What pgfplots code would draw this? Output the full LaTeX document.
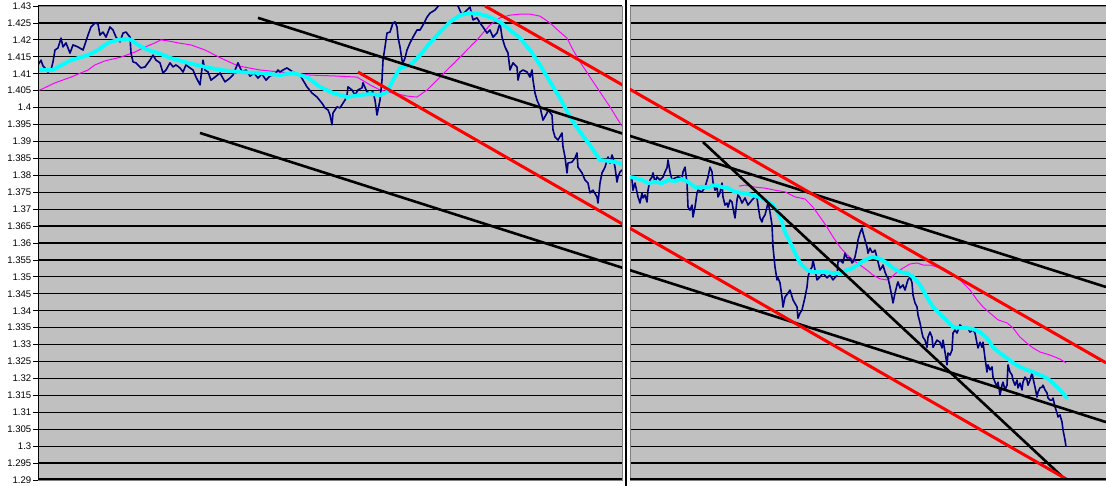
\documentclass[border=0pt]{standalone}
\usepackage{pgfplots}
\pgfplotsset{compat=1.18}
\usepackage{fontspec}
\setmainfont{Liberation Sans}
\definecolor{bgGrey}{HTML}{C0C0C0}
\definecolor{navyS}{HTML}{000080}
\definecolor{cyanS}{HTML}{00FFFF}
\definecolor{magS}{HTML}{FF00FF}
\definecolor{frameG}{HTML}{808080}
\pgfplotsset{
  panel/.style={
    scale only axis, height=474pt,
    ymin=1.29, ymax=1.43,
    ytick={1.29,1.295,1.3,1.305,1.31,1.315,1.32,1.325,1.33,1.335,1.34,1.345,1.35,1.355,1.36,1.365,1.37,1.375,1.38,1.385,1.39,1.395,1.4,1.405,1.41,1.415,1.42,1.425,1.43},
    xtick=\empty,
    ymajorgrids, grid style={black, line width=1.2pt},
    axis background/.style={fill=bgGrey},
    axis line style={draw=frameG, line width=0.8pt},
    clip=true,
  },
  price/.style={navyS, line width=1.6pt, line join=round},
  ma/.style={cyanS, line width=3.8pt, line join=round, line cap=round},
  ma2/.style={magS, line width=1pt, line join=round},
  tblack/.style={black, line width=2.6pt},
  tred/.style={red, line width=3pt},
}
\begin{document}
\begin{tikzpicture}[x=1pt,y=1pt]
\fill[white] (0,0) rectangle (1106,486);
\useasboundingbox (0,0) rectangle (1106,486);
% ---------------- left panel ----------------
\begin{axis}[panel, at={(38pt,6pt)}, anchor=south west, width=584pt,
  xmin=38, xmax=622,
  ytick pos=left, tick align=outside, major tick length=5pt,
  tick style={black, line width=0.8pt},
  /pgf/number format/assume math mode=true,
  yticklabel={\pgfmathprintnumber[fixed,precision=3]{\tick}},
  yticklabel style={font=\fontsize{9.6}{11}\selectfont, inner sep=1.5pt},
]
\addplot[ma2] coordinates {(38,1.4049) (55,1.4073) (71,1.4090) (88,1.4111) (95,1.4126) (105,1.4138) (121,1.4149) (135,1.4164) (145,1.4179) (155,1.4191) (161,1.4200) (168,1.4197) (178,1.4191) (191,1.4185) (205,1.4170) (221,1.4146) (238,1.4123) (260,1.4111) (280,1.4105) (310,1.4096) (337,1.4093) (357,1.4090) (370,1.4067) (380,1.4052) (393,1.4043) (407,1.4034) (417,1.4031) (427,1.4052) (437,1.4081) (447,1.4111) (457,1.4140) (467,1.4170) (477,1.4200) (490,1.4244) (500,1.4265) (510,1.4273) (520,1.4276) (530,1.4276) (540,1.4270) (550,1.4250) (560,1.4223) (567,1.4205) (573,1.4170) (580,1.4135) (590,1.4090) (600,1.4046) (610,1.4002) (620,1.3954) (622,1.3946)};
\addplot[price] coordinates {(38,1.4126) (41,1.4140) (43,1.4123) (45,1.4117) (48,1.4105) (51,1.4111) (53,1.4135) (55,1.4170) (58,1.4176) (61,1.4205) (63,1.4179) (66,1.4191) (70,1.4161) (73,1.4185) (78,1.4179) (83,1.4170) (88,1.4214) (91,1.4238) (95,1.4250) (98,1.4247) (100,1.4214) (103,1.4223) (106,1.4208) (110,1.4238) (113,1.4229) (116,1.4208) (120,1.4194) (123,1.4220) (126,1.4223) (130,1.4208) (131,1.4161) (133,1.4135) (136,1.4132) (141,1.4117) (145,1.4120) (150,1.4140) (153,1.4155) (156,1.4140) (160,1.4132) (163,1.4102) (166,1.4111) (170,1.4132) (173,1.4120) (176,1.4126) (180,1.4117) (183,1.4105) (186,1.4126) (190,1.4117) (193,1.4111) (196,1.4090) (200,1.4067) (203,1.4140) (205,1.4111) (208,1.4105) (211,1.4081) (215,1.4090) (220,1.4102) (225,1.4076) (230,1.4087) (233,1.4096) (238,1.4132) (242,1.4105) (246,1.4111) (250,1.4093) (254,1.4102) (258,1.4087) (262,1.4099) (266,1.4081) (270,1.4093) (275,1.4099) (278,1.4111) (280,1.4105) (283,1.4111) (287,1.4117) (290,1.4111) (293,1.4105) (300,1.4096) (303,1.4081) (307,1.4061) (312,1.4043) (317,1.4031) (322,1.4013) (325,1.3999) (328,1.3993) (330,1.3978) (332,1.3949) (333,1.3984) (337,1.4002) (340,1.3999) (343,1.4013) (345,1.4022) (347,1.4037) (348,1.4061) (352,1.4052) (355,1.4037) (358,1.4052) (362,1.4058) (363,1.4073) (367,1.4046) (370,1.4043) (373,1.4046) (375,1.4022) (377,1.3978) (378,1.3993) (380,1.4022) (382,1.4081) (383,1.4140) (385,1.4179) (387,1.4220) (390,1.4223) (393,1.4250) (395,1.4253) (397,1.4238) (398,1.4208) (400,1.4179) (402,1.4140) (403,1.4132) (405,1.4146) (407,1.4170) (410,1.4191) (413,1.4208) (417,1.4229) (420,1.4229) (423,1.4244) (427,1.4267) (430,1.4279) (435,1.4288) (440,1.4306) (445,1.4318) (450,1.4324) (455,1.4312) (458,1.4300) (462,1.4273) (467,1.4288) (470,1.4297) (473,1.4259) (477,1.4265) (480,1.4250) (483,1.4238) (487,1.4220) (490,1.4229) (493,1.4208) (497,1.4220) (500,1.4250) (502,1.4208) (505,1.4179) (508,1.4161) (510,1.4111) (513,1.4132) (517,1.4120) (518,1.4081) (520,1.4105) (523,1.4111) (527,1.4105) (530,1.4090) (532,1.4111) (533,1.4081) (535,1.4043) (537,1.4022) (540,1.4002) (543,1.3963) (547,1.3984) (548,1.3993) (552,1.3978) (553,1.3934) (555,1.3913) (558,1.3904) (562,1.3925) (563,1.3884) (565,1.3854) (567,1.3807) (568,1.3836) (572,1.3839) (575,1.3851) (577,1.3866) (578,1.3824) (582,1.3807) (585,1.3786) (588,1.3777) (590,1.3748) (593,1.3756) (597,1.3736) (598,1.3718) (600,1.3777) (602,1.3807) (605,1.3824) (608,1.3854) (610,1.3836) (612,1.3860) (613,1.3851) (615,1.3824) (617,1.3780) (618,1.3795) (620,1.3810) (622,1.3816)};
\addplot[ma] coordinates {(38,1.4111) (53,1.4111) (58,1.4120) (71,1.4140) (88,1.4155) (98,1.4170) (108,1.4191) (118,1.4200) (128,1.4203) (133,1.4197) (138,1.4185) (148,1.4170) (158,1.4161) (171,1.4146) (188,1.4132) (205,1.4120) (221,1.4111) (238,1.4105) (260,1.4102) (280,1.4096) (293,1.4102) (307,1.4090) (320,1.4061) (333,1.4043) (347,1.4031) (360,1.4037) (370,1.4040) (380,1.4037) (387,1.4046) (393,1.4081) (400,1.4117) (407,1.4123) (413,1.4132) (420,1.4155) (430,1.4191) (440,1.4223) (450,1.4253) (460,1.4273) (470,1.4279) (480,1.4276) (490,1.4267) (500,1.4253) (510,1.4229) (520,1.4205) (530,1.4170) (540,1.4126) (550,1.4076) (560,1.4028) (570,1.3972) (580,1.3928) (590,1.3889) (600,1.3845) (610,1.3842) (620,1.3836) (622,1.3830)};
\addplot[tblack] coordinates {(258,1.4265) (1106,1.3470)};
\addplot[tblack] coordinates {(200,1.3925) (1106,1.3071)};
\addplot[tred] coordinates {(485,1.4300) (1106,1.3246)};
\addplot[tred] coordinates {(358,1.4105) (1068,1.2900)};
\draw[black, line width=1pt] (rel axis cs:0,0) -- (rel axis cs:0,1);
\draw[black, line width=3pt] (rel axis cs:0,0) -- (rel axis cs:1,0);
\end{axis}
% ---------------- right panel ----------------
\begin{axis}[panel, at={(630pt,6pt)}, anchor=south west, width=476pt,
  xmin=630, xmax=1106,
  yticklabels={}, major tick length=0pt,
]
\addplot[ma2] coordinates {(739,1.3768) (745,1.3771) (755,1.3765) (765,1.3762) (775,1.3756) (785,1.3751) (795,1.3736) (805,1.3730) (813,1.3706) (820,1.3677) (827,1.3647) (833,1.3618) (840,1.3588) (847,1.3565) (853,1.3550) (860,1.3535) (867,1.3520) (873,1.3505) (880,1.3494) (887,1.3491) (892,1.3500) (897,1.3514) (903,1.3526) (910,1.3538) (917,1.3541) (923,1.3535) (930,1.3535) (937,1.3529) (943,1.3526) (950,1.3514) (957,1.3500) (963,1.3482) (970,1.3461) (977,1.3432) (983,1.3411) (990,1.3393) (998,1.3373) (1007,1.3364) (1013,1.3349) (1020,1.3322) (1027,1.3304) (1033,1.3290) (1040,1.3278) (1050,1.3269) (1060,1.3257) (1066,1.3246)};
\addplot[price] coordinates {(630,1.3801) (632,1.3786) (633,1.3756) (635,1.3777) (638,1.3736) (640,1.3718) (642,1.3748) (643,1.3733) (645,1.3742) (647,1.3721) (648,1.3756) (650,1.3786) (652,1.3795) (653,1.3807) (655,1.3780) (657,1.3795) (660,1.3786) (663,1.3795) (665,1.3810) (667,1.3822) (668,1.3845) (670,1.3810) (672,1.3786) (675,1.3792) (678,1.3795) (682,1.3792) (683,1.3810) (685,1.3824) (687,1.3777) (688,1.3706) (690,1.3697) (692,1.3712) (693,1.3677) (695,1.3706) (697,1.3748) (698,1.3756) (702,1.3751) (705,1.3765) (708,1.3795) (710,1.3824) (712,1.3810) (713,1.3780) (715,1.3756) (717,1.3765) (718,1.3736) (720,1.3748) (722,1.3777) (723,1.3736) (725,1.3712) (727,1.3718) (728,1.3706) (730,1.3727) (732,1.3721) (733,1.3703) (735,1.3674) (737,1.3727) (738,1.3742) (740,1.3733) (742,1.3718) (745,1.3733) (748,1.3712) (752,1.3727) (755,1.3736) (757,1.3733) (758,1.3712) (760,1.3674) (762,1.3662) (763,1.3674) (765,1.3683) (767,1.3706) (768,1.3721) (770,1.3691) (772,1.3653) (773,1.3588) (775,1.3529) (777,1.3491) (778,1.3497) (780,1.3482) (782,1.3440) (783,1.3411) (785,1.3440) (788,1.3452) (790,1.3461) (793,1.3432) (797,1.3411) (798,1.3378) (800,1.3393) (802,1.3402) (805,1.3440) (807,1.3470) (808,1.3500) (810,1.3520) (812,1.3529) (813,1.3550) (815,1.3520) (817,1.3491) (820,1.3500) (823,1.3511) (827,1.3497) (830,1.3505) (833,1.3491) (837,1.3505) (838,1.3544) (840,1.3550) (843,1.3541) (845,1.3570) (847,1.3556) (850,1.3556) (852,1.3541) (853,1.3544) (855,1.3559) (857,1.3588) (858,1.3609) (860,1.3630) (862,1.3644) (863,1.3630) (865,1.3609) (867,1.3588) (868,1.3570) (870,1.3585) (872,1.3573) (873,1.3573) (875,1.3579) (877,1.3556) (878,1.3544) (880,1.3520) (882,1.3529) (883,1.3535) (885,1.3514) (887,1.3500) (888,1.3497) (890,1.3470) (892,1.3440) (893,1.3423) (895,1.3452) (897,1.3476) (898,1.3485) (900,1.3467) (903,1.3476) (905,1.3461) (907,1.3482) (908,1.3491) (910,1.3500) (912,1.3482) (913,1.3446) (915,1.3423) (917,1.3411) (918,1.3387) (920,1.3364) (922,1.3334) (923,1.3322) (925,1.3313) (927,1.3292) (928,1.3322) (930,1.3337) (932,1.3322) (933,1.3292) (937,1.3313) (940,1.3307) (942,1.3290) (943,1.3313) (945,1.3278) (947,1.3240) (948,1.3275) (950,1.3269) (952,1.3284) (953,1.3334) (955,1.3343) (957,1.3334) (960,1.3358) (963,1.3349) (967,1.3352) (970,1.3337) (973,1.3343) (975,1.3334) (977,1.3304) (978,1.3290) (980,1.3307) (982,1.3292) (983,1.3307) (985,1.3260) (987,1.3219) (988,1.3240) (990,1.3225) (992,1.3234) (993,1.3204) (995,1.3189) (997,1.3174) (998,1.3189) (1000,1.3151) (1002,1.3180) (1003,1.3189) (1005,1.3166) (1007,1.3180) (1008,1.3240) (1010,1.3219) (1012,1.3210) (1013,1.3195) (1015,1.3180) (1017,1.3195) (1018,1.3172) (1020,1.3186) (1022,1.3166) (1023,1.3189) (1025,1.3204) (1027,1.3195) (1028,1.3180) (1030,1.3195) (1032,1.3216) (1033,1.3201) (1035,1.3174) (1037,1.3145) (1038,1.3160) (1040,1.3172) (1042,1.3174) (1043,1.3180) (1045,1.3166) (1047,1.3157) (1048,1.3142) (1050,1.3136) (1052,1.3136) (1053,1.3142) (1055,1.3116) (1057,1.3098) (1058,1.3086) (1060,1.3092) (1062,1.3071) (1063,1.3048) (1065,1.3018) (1066,1.2998)};
\addplot[ma] coordinates {(630,1.3795) (635,1.3792) (642,1.3786) (648,1.3777) (655,1.3780) (662,1.3777) (668,1.3786) (675,1.3783) (682,1.3789) (688,1.3780) (695,1.3765) (702,1.3765) (708,1.3765) (715,1.3771) (722,1.3765) (728,1.3762) (735,1.3751) (742,1.3748) (748,1.3745) (755,1.3739) (762,1.3733) (768,1.3721) (773,1.3712) (778,1.3688) (782,1.3662) (785,1.3632) (790,1.3603) (795,1.3570) (800,1.3541) (807,1.3520) (813,1.3514) (820,1.3514) (827,1.3514) (833,1.3511) (840,1.3511) (847,1.3520) (853,1.3526) (860,1.3541) (867,1.3553) (873,1.3559) (880,1.3553) (887,1.3541) (893,1.3526) (900,1.3514) (907,1.3511) (913,1.3500) (920,1.3476) (927,1.3440) (933,1.3411) (940,1.3390) (947,1.3370) (953,1.3352) (960,1.3349) (967,1.3349) (973,1.3346) (980,1.3337) (987,1.3319) (993,1.3292) (1000,1.3275) (1007,1.3260) (1013,1.3246) (1020,1.3234) (1027,1.3225) (1033,1.3219) (1040,1.3210) (1047,1.3201) (1053,1.3186) (1060,1.3166) (1067,1.3142)};
\addplot[tblack] coordinates {(258,1.4265) (1106,1.3470)};
\addplot[tblack] coordinates {(200,1.3925) (1106,1.3071)};
\addplot[tblack] coordinates {(703,1.3898) (1068,1.2894)};
\addplot[tred] coordinates {(485,1.4300) (1106,1.3246)};
\addplot[tred] coordinates {(358,1.4105) (1068,1.2900)};
\draw[black, line width=3pt] (rel axis cs:0,0) -- (rel axis cs:1,0);
\end{axis}
\draw[black, line width=2pt] (625.8,0) -- (625.8,486);
\end{tikzpicture}
\end{document}
